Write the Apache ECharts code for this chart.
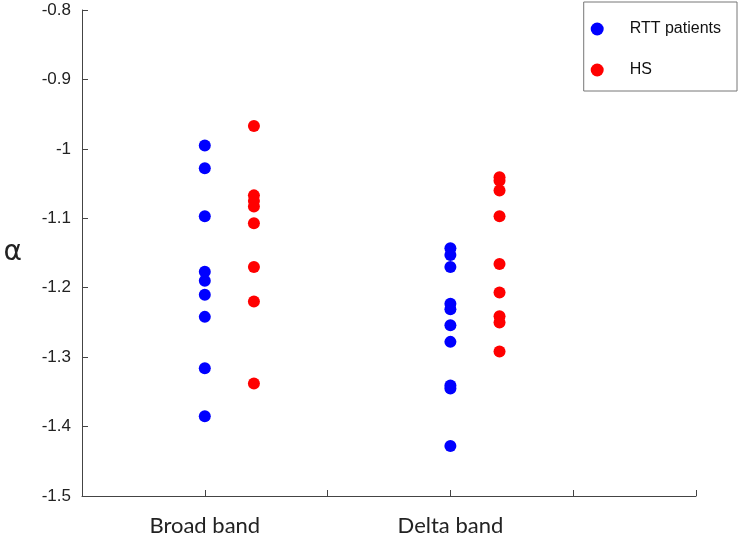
<!DOCTYPE html>
<html>
<head>
<meta charset="utf-8">
<script src="https://cdn.jsdelivr.net/npm/echarts@6/dist/echarts.min.js"></script>
<style>
  html, body { margin: 0; padding: 0; background: #fff; }
  #chart { width: 739px; height: 544px; }
</style>
</head>
<body>
<div id="chart"></div>
<script>
// x positions of each group on the value axis
const broadX = 1;
const deltaX = 3;
const offsetHS = 0.4;

const xTickLabels = ['', 'Broad band', '', 'Delta band', '', ''];

const rttBroad = [-0.995, -1.028, -1.097, -1.177, -1.19, -1.21, -1.242, -1.316, -1.385];
const hsBroad = [-0.967, -1.067, -1.075, -1.083, -1.107, -1.17, -1.22, -1.338];
const rttDelta = [-1.143, -1.153, -1.17, -1.223, -1.231, -1.254, -1.278, -1.341, -1.345, -1.428];
const hsDelta = [-1.041, -1.046, -1.06, -1.097, -1.166, -1.207, -1.241, -1.25, -1.292];

const axisColor = '#444';
const textColor = '#222';

const chart = echarts.init(document.getElementById('chart'));

const pts = (x, arr) => arr.map(v => [x, v]);

chart.setOption({
  animation: false,
  grid: { left: 82, right: 43, top: 10, bottom: 48 },
  legend: {
    orient: 'vertical',
    right: 2,
    top: 2,
    padding: [19, 16, 13, 7],
    itemGap: 25,
    itemWidth: 13,
    itemHeight: 13,
    icon: 'circle',
    borderColor: '#777',
    borderWidth: 1,
    textStyle: { fontFamily: 'Liberation Sans', fontSize: 16, color: '#111', padding: [0, 0, 0, 21] },
    data: ['RTT patients', 'HS'],
  },
  xAxis: {
    type: 'value',
    min: 0,
    max: 5,
    interval: 1,
    splitLine: { show: false },
    axisLine: { lineStyle: { color: axisColor, width: 1 } },
    axisTick: { inside: true, length: 6, lineStyle: { color: axisColor } },
    axisLabel: {
      margin: 19,
      fontFamily: 'Lato',
      fontSize: 22,
      color: textColor,
      formatter: v => xTickLabels[Math.round(v)] || '',
    },
  },
  yAxis: {
    type: 'value',
    min: -1.5,
    max: -0.8,
    interval: 0.1,
    name: 'α',
    nameLocation: 'middle',
    nameRotate: 0,
    nameGap: 60,
    nameTextStyle: { fontFamily: 'DejaVu Sans', fontSize: 28, color: textColor, padding: [0, 0, 14, 0] },
    splitLine: { show: false },
    axisLine: { show: true, lineStyle: { color: axisColor, width: 1 } },
    axisTick: { show: true, inside: true, length: 6, lineStyle: { color: axisColor } },
    axisLabel: {
      margin: 11,
      fontFamily: 'Liberation Sans',
      fontSize: 17,
      color: textColor,
      formatter: v => String(Math.round(v * 10) / 10),
    },
  },
  series: [
    {
      name: 'RTT patients',
      type: 'scatter',
      symbolSize: 12,
      itemStyle: { color: '#0000ff', opacity: 1 },
      data: pts(broadX, rttBroad).concat(pts(deltaX, rttDelta)),
    },
    {
      name: 'HS',
      type: 'scatter',
      symbolSize: 12,
      itemStyle: { color: '#ff0000', opacity: 1 },
      data: pts(broadX + offsetHS, hsBroad).concat(pts(deltaX + offsetHS, hsDelta)),
    },
  ],
});
</script>
</body>
</html>
